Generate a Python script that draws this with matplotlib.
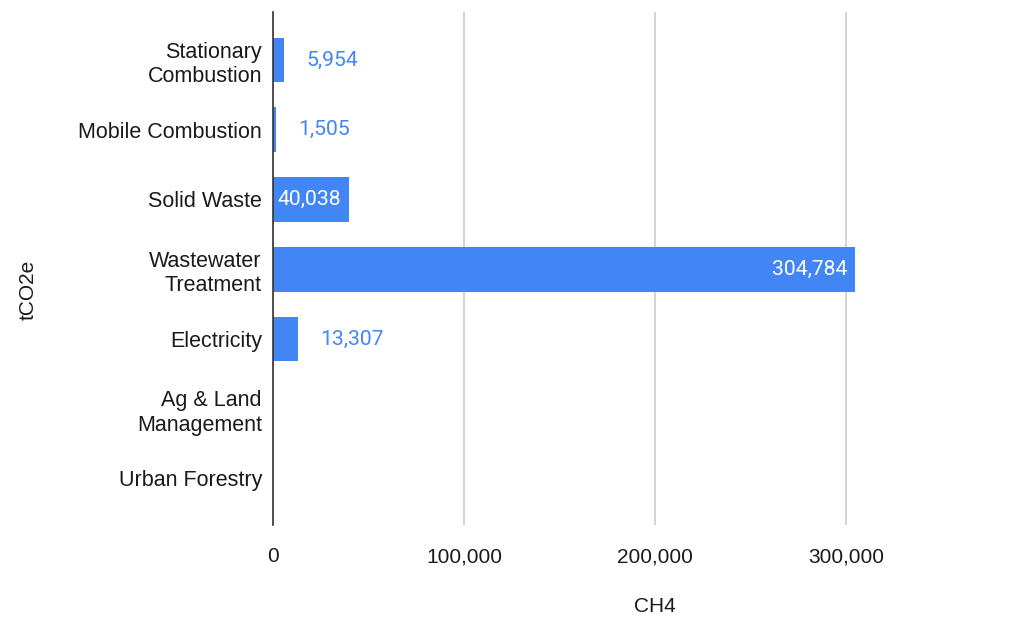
import matplotlib.pyplot as plt
from matplotlib.ticker import FuncFormatter

# CH4 emissions by sector (tCO2e)
sectors = ["Stationary\nCombustion", "Mobile Combustion", "Solid Waste",
           "Wastewater\nTreatment", "Electricity", "Ag & Land\nManagement",
           "Urban Forestry"]
ch4 = [5954, 1505, 40038, 304784, 13307, 0, 0]
x_ticks = [0, 100000, 200000, 300000]

bar_color = "#4285f4"
text_color = "#1a1a1a"
label_font = ["Liberation Sans", "DejaVu Sans"]
value_font = ["Roboto", "DejaVu Sans"]

fig = plt.figure(figsize=(10.23, 6.17), dpi=100)
ax = fig.add_axes([273 / 1023, 92 / 617, 726 / 1023, 513 / 617])

ypos = list(range(len(sectors)))
ax.barh(ypos, ch4, height=0.64, color=bar_color, zorder=3)

ax.set_xlim(0, 380000)
ax.set_ylim(6.67, -0.69)
ax.set_xticks(x_ticks)
ax.xaxis.set_major_formatter(FuncFormatter(lambda v, p: f"{int(v):,}"))
ax.set_yticks(ypos)
ax.set_yticklabels(sectors, fontfamily=label_font, fontsize=15.5, ha="right",
                   linespacing=1.22)
for lab in ax.get_xticklabels():
    lab.set_fontfamily(label_font)
    lab.set_fontsize(15)
ax.tick_params(axis="y", length=0, pad=8, colors=text_color)
ax.tick_params(axis="x", length=0, pad=16, colors=text_color)

ax.grid(axis="x", color="#cccccc", linewidth=1.2, zorder=0)
for side in ["top", "right", "bottom"]:
    ax.spines[side].set_visible(False)
ax.spines["left"].set_color("#333333")
ax.spines["left"].set_linewidth(1.2)
ax.spines["left"].set_zorder(4)

# value labels: inside for long bars, outside for short ones
for y, v in zip(ypos, ch4):
    if v == 0:
        continue
    if v > 30000:
        ax.annotate(f"{v:,}", (v, y), xytext=(-8, 0), textcoords="offset pixels",
                    ha="right", va="center", color="white", fontsize=15.2,
                    fontfamily=value_font, zorder=5)
    else:
        ax.annotate(f"{v:,}", (v, y), xytext=(22, 0), textcoords="offset pixels",
                    ha="left", va="center", color=bar_color, fontsize=15.2,
                    fontfamily=value_font, zorder=5)

fig.text(655 / 1023, 1 - 607 / 617, "CH4", ha="center", va="center",
         fontsize=15, fontfamily=label_font, color=text_color)
fig.text(28 / 1023, 1 - 290 / 617, "tCO2e", ha="center", va="center",
         rotation=90, fontsize=15, fontfamily=label_font, color=text_color)

fig.savefig("out.png", dpi=100)
